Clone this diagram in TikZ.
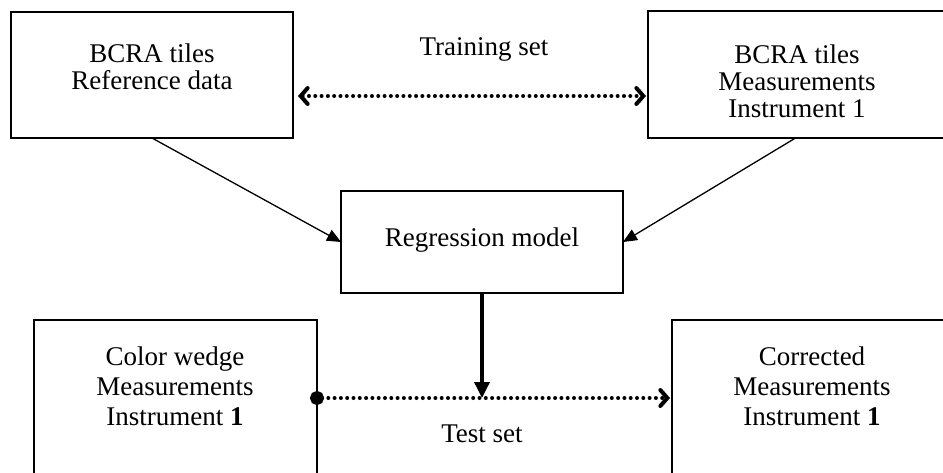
\documentclass[tikz,border=0pt]{standalone}
\usepackage{fontspec}
\setmainfont{Liberation Serif}
\usetikzlibrary{arrows.meta}
\begin{document}
\begin{tikzpicture}[x=1pt,y=-1pt,
  box/.style={rectangle,inner sep=0pt,outer sep=0pt,line width=2pt},
  edge/.style={line width=2pt,line cap=rect},
  lbl/.style={font=\fontsize{27}{27}\selectfont,align=center,anchor=base,inner sep=0pt},
  lblb/.style={font=\fontsize{27}{30}\selectfont,align=center,anchor=base,inner sep=0pt},
  dotline/.style={line width=4pt,line cap=round,dash pattern=on 0pt off 6.3pt},
  thin/.style={line width=1.3pt,-{Triangle[length=14pt,width=12pt]}},
  thick/.style={line width=3.5pt,-{Triangle[length=16pt,width=15pt]}},
  chev/.tip={Straight Barb[length=7pt,width=16pt,line width=4pt,line cap=round,line join=miter]}
]
\fill[white] (0,0) rectangle (943,472);
\useasboundingbox (0,0) rectangle (943,472);

% boxes
\node[box,draw,minimum width=282pt,minimum height=126pt] (tl) at (152,75) {};
\node[box,minimum width=295pt,minimum height=127pt] (tr) at (795.5,74.5) {};
\draw[edge] (tr.north east) -- (tr.north west) -- (tr.south west) -- (tr.south east);
\node[box,draw,minimum width=282pt,minimum height=102pt] (reg) at (482,242) {};
\node[box,minimum width=283pt,minimum height=152pt] (cw) at (175.5,396) {};
\draw[edge] (cw.south west) -- (cw.north west) -- (cw.north east) -- (cw.south east);
\node[box,minimum width=271pt,minimum height=152pt] (cm) at (807.5,396) {};
\draw[edge] (cm.south west) -- (cm.north west) -- (cm.north east);

% texts (base = baseline of last line)
\node[lbl] (tltext) at (152,89) {BCRA tiles\\Reference data};
\node[lbl] (trtext) at (797,117) {BCRA tiles\\Measurements\\Instrument 1};
\node[lbl] (train) at (484,55) {Training set};
\node[lbl] (regtext) at (482,246) {Regression model};
\node[lblb] (cwtext) at (175,425) {Color wedge\\Measurements\\Instrument \textbf{1}};
\node[lblb] (cmtext) at (812,425) {Corrected\\Measurements\\Instrument \textbf{1}};
\node[lbl] (test) at (482,442) {Test set};

% connectors
\coordinate (ty) at (0,96);
\coordinate (ly) at (0,398);
\draw[dotline,chev-chev,shorten <=5pt,shorten >=2pt]
  (tl.east |- ty) -- (tr.west |- ty);
\draw[thin] (tl.south) -- (reg.west);
\draw[thin] (tr.south) -- (reg.east);
\coordinate (join) at (reg.south |- ly);
\draw[thick] (reg.south) -- (join);
\draw[dotline,{Circle[length=14pt]}-chev,shorten <=-7pt,shorten >=2pt]
  (cw.east |- ly) -- (cm.west |- ly);
\end{tikzpicture}
\end{document}
